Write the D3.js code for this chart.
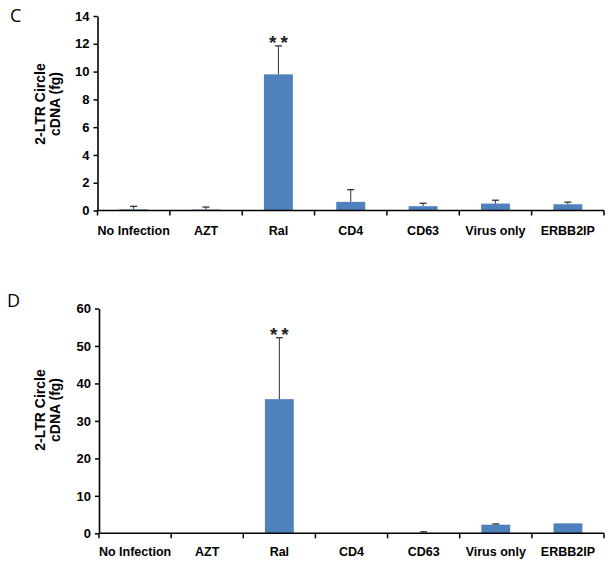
<!DOCTYPE html>
<html>
<head>
<meta charset="utf-8">
<script src="https://cdn.jsdelivr.net/npm/d3@7"></script>
<style>
  html, body { margin: 0; padding: 0; background: #fff; }
  svg { display: block; }
</style>
</head>
<body>
<svg id="chart" width="615" height="563"></svg>
<script>
const categories = ["No Infection", "AZT", "Ral", "CD4", "CD63", "Virus only", "ERBB2IP"];

const valuesC = [0.08, 0.07, 9.8, 0.62, 0.31, 0.5, 0.45];
const errorsC = [0.22, 0.18, 2.05, 0.88, 0.21, 0.24, 0.15];
const signifC = ["", "", "**", "", "", "", ""];
const ticksC = [0, 2, 4, 6, 8, 10, 12, 14];

const valuesD = [0, 0, 35.8, 0, 0.1, 2.3, 2.65];
const errorsD = [0, 0, 16.4, 0, 0.3, 0.2, 0];
const signifD = ["", "", "**", "", "", "", ""];
const ticksD = [0, 10, 20, 30, 40, 50, 60];

const yTitle = ["2-LTR Circle", "cDNA (fg)"];

const svg = d3.select("#chart");
const barColor = "#4f81bd";

function panel(opts) {
  const g = svg.append("g");
  const x = d3.scaleBand().domain(categories)
    .range([opts.x0, opts.x1]).paddingInner(0.6).paddingOuter(0.3);
  const y = d3.scaleLinear().domain([0, d3.max(opts.ticks)])
    .range([opts.yBottom, opts.yTop]);
  const step = x.step();
  const start = x.range()[0];

  // bars
  g.selectAll("rect.bar").data(opts.values).join("rect")
    .attr("class", "bar")
    .attr("x", (d, i) => x(categories[i]))
    .attr("width", x.bandwidth())
    .attr("y", d => y(d))
    .attr("height", d => y(0) - y(d))
    .attr("fill", barColor);

  // error bars (plus only)
  const eb = g.selectAll("g.err").data(opts.values.map((v, i) => ({v, e: opts.errors[i], c: categories[i]})))
    .join("g").attr("class", "err")
    .filter(d => d.e > 0);
  eb.append("line")
    .attr("x1", d => x(d.c) + x.bandwidth() / 2)
    .attr("x2", d => x(d.c) + x.bandwidth() / 2)
    .attr("y1", d => y(d.v))
    .attr("y2", d => y(d.v + d.e))
    .attr("stroke", "#333").attr("stroke-width", 1);
  eb.append("line")
    .attr("x1", d => x(d.c) + x.bandwidth() / 2 - 3.5)
    .attr("x2", d => x(d.c) + x.bandwidth() / 2 + 3.5)
    .attr("y1", d => y(d.v + d.e))
    .attr("y2", d => y(d.v + d.e))
    .attr("stroke", "#333").attr("stroke-width", 1.3);

  // significance
  g.selectAll("text.sig").data(opts.values.map((v, i) => ({v, e: opts.errors[i], c: categories[i], s: opts.signif[i]})))
    .join("text").attr("class", "sig")
    .filter(d => d.s)
    .attr("x", d => x(d.c) + x.bandwidth() / 2 + 2)
    .attr("y", d => y(d.v + d.e) + 3)
    .attr("text-anchor", "middle")
    .attr("font-family", "Liberation Sans, Arial, sans-serif")
    .attr("font-size", 19)
    .attr("font-weight", "bold")
    .attr("letter-spacing", 4)
    .attr("fill", "#222")
    .text(d => d.s);

  // y axis
  const yAxis = d3.axisLeft(y).tickValues(opts.ticks).tickSize(4).tickPadding(4).tickSizeOuter(0);
  const ya = g.append("g").attr("transform", `translate(${opts.x0},0)`).call(yAxis);
  ya.select(".domain").attr("stroke", "#000").attr("stroke-width", 1.6);
  ya.selectAll(".tick line").attr("stroke", "#000").attr("stroke-width", 1.5);
  ya.selectAll(".tick text")
    .attr("font-family", "Liberation Sans, Arial, sans-serif")
    .attr("font-size", 13).attr("font-weight", "bold").attr("fill", "#000");

  // x axis
  const xa = g.append("g").attr("transform", `translate(0,${opts.yBottom})`);
  xa.append("line").attr("x1", opts.x0).attr("x2", opts.x1)
    .attr("stroke", "#000").attr("stroke-width", 1.6);
  xa.selectAll("line.bt").data(d3.range(categories.length + 1)).join("line")
    .attr("class", "bt")
    .attr("x1", i => start + i * step)
    .attr("x2", i => start + i * step)
    .attr("y1", 0).attr("y2", 5)
    .attr("stroke", "#000").attr("stroke-width", 1.5);
  xa.selectAll("text").data(categories).join("text")
    .attr("x", d => x(d) + x.bandwidth() / 2)
    .attr("y", opts.labelDy)
    .attr("text-anchor", "middle")
    .attr("font-family", "Liberation Sans, Arial, sans-serif")
    .attr("font-size", 12.5).attr("font-weight", "bold").attr("fill", "#000")
    .text(d => d);

  // y title
  const tg = g.append("g").attr("transform", `translate(${opts.titleX},${opts.titleY}) rotate(-90)`);
  tg.selectAll("text").data(yTitle).join("text")
    .attr("x", 0).attr("y", (d, i) => i * 15)
    .attr("text-anchor", "middle")
    .attr("font-family", "Liberation Sans, Arial, sans-serif")
    .attr("font-size", 14).attr("font-weight", "bold").attr("fill", "#000")
    .text(d => d);

  // panel letter
  g.append("text").attr("x", opts.letterX).attr("y", opts.letterY)
    .attr("font-family", "Open Sans, Noto Sans, sans-serif")
    .attr("font-size", 18).attr("fill", "#000")
    .text(opts.letter);
}

panel({
  values: valuesC, errors: errorsC, signif: signifC, ticks: ticksC,
  x0: 97.5, x1: 604, yTop: 16, yBottom: 210.5,
  labelDy: 24, titleX: 45, titleY: 104, letterX: 10, letterY: 22, letter: "C"
});

panel({
  values: valuesD, errors: errorsD, signif: signifD, ticks: ticksD,
  x0: 99, x1: 604, yTop: 308.5, yBottom: 533.3,
  labelDy: 23, titleX: 45, titleY: 410, letterX: 7, letterY: 307, letter: "D"
});
</script>
</body>
</html>
